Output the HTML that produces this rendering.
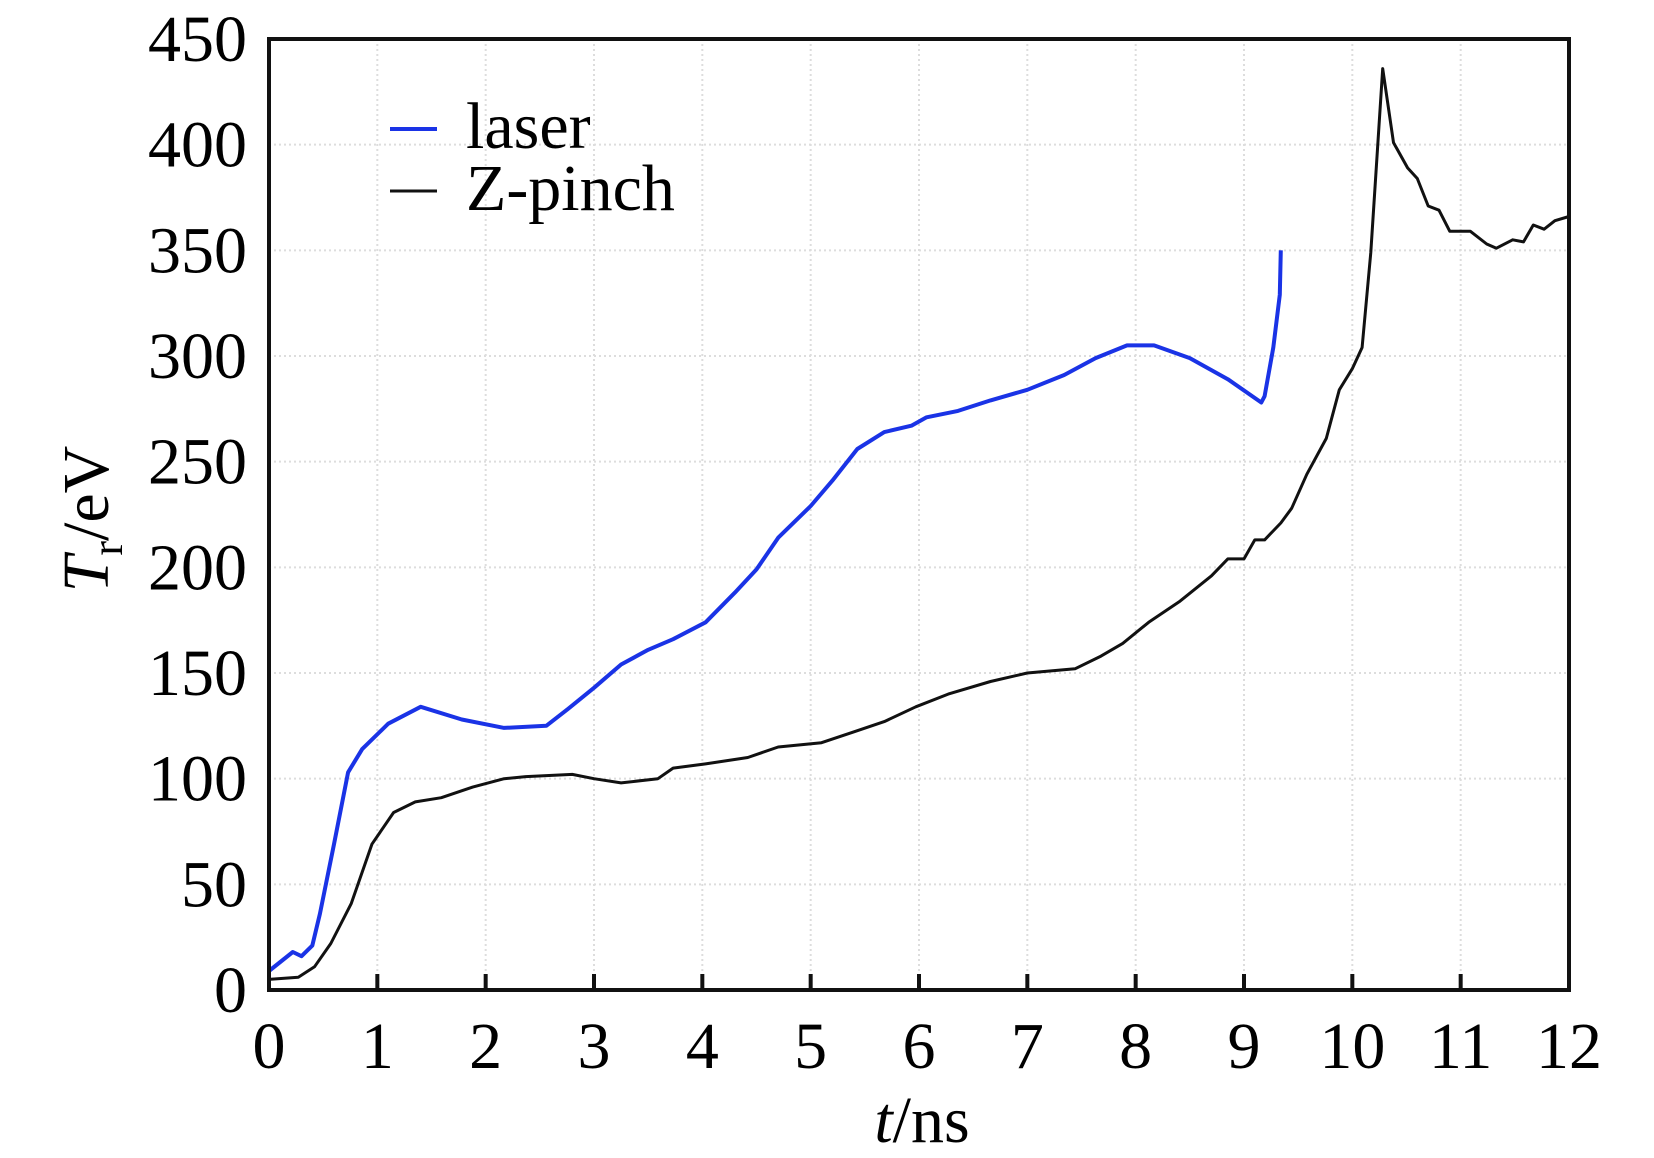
<!DOCTYPE html>
<html><head><meta charset="utf-8"><style>
html,body{margin:0;padding:0;background:#fff;}
svg{display:block;font-family:"Liberation Serif",serif;}
</style></head><body>
<svg id="chart" width="1654" height="1158" viewBox="0 0 1654 1158">
<g id="grid"></g>
<g id="series"></g>
<rect x="269" y="39" width="1300" height="951" fill="none" stroke="#111" stroke-width="4"/>
<g id="ticks"></g>
<text x="922" y="1142" font-size="66" text-anchor="middle"><tspan font-style="italic">t</tspan>/ns</text>
<text transform="translate(108,519) rotate(-90)" font-size="66" text-anchor="middle"><tspan font-style="italic">T</tspan><tspan font-size="44" dy="14">r</tspan><tspan dy="-14">/eV</tspan></text>
<g>
<line x1="390" y1="129" x2="437" y2="129" stroke="#1a33e6" stroke-width="4"/>
<text x="466" y="148" font-size="66">laser</text>
<line x1="390" y1="191" x2="437" y2="191" stroke="#111" stroke-width="3"/>
<text x="466" y="210" font-size="66">Z-pinch</text>
</g>
</svg>
<script>
const xTicks=[0,1,2,3,4,5,6,7,8,9,10,11,12];
const yTicks=[0,50,100,150,200,250,300,350,400,450];
const laserT=[0,0.22,0.3,0.4,0.47,0.6,0.73,0.86,1.1,1.4,1.78,2.17,2.56,2.76,3.0,3.25,3.5,3.73,4.03,4.3,4.5,4.7,5.0,5.2,5.43,5.68,5.93,6.07,6.36,6.66,7.0,7.34,7.63,7.92,8.17,8.5,8.85,9.16,9.19,9.27,9.33,9.34];
const laserV=[9,18,16,21,36,69,103,114,126,134,128,124,125,133,143,154,161,166,174,188,199,214,229,241,256,264,267,271,274,279,284,291,299,305,305,299,289,278,281,304,329,350];
const zT=[0,0.27,0.42,0.57,0.76,0.95,1.15,1.35,1.59,1.88,2.17,2.37,2.8,3.0,3.25,3.59,3.73,4.03,4.42,4.7,5.1,5.39,5.68,5.97,6.27,6.66,7.0,7.44,7.68,7.88,8.12,8.41,8.7,8.85,9.0,9.1,9.19,9.34,9.44,9.58,9.76,9.88,10.0,10.09,10.17,10.28,10.38,10.51,10.6,10.7,10.8,10.9,11.09,11.24,11.33,11.48,11.58,11.67,11.77,11.87,12.0];
const zV=[5,6,11,22,41,69,84,89,91,96,100,101,102,100,98,100,105,107,110,115,117,122,127,134,140,146,150,152,158,164,174,184,196,204,204,213,213,221,228,244,261,284,294,304,349,436,401,389,384,371,369,359,359,353,351,355,354,362,360,364,366];
const X0=269,X1=1569,Y0=990,Y1=39;
function xs(t){return X0+t*(X1-X0)/12;}
function ys(v){return Y0-v*(Y0-Y1)/450;}
const NS="http://www.w3.org/2000/svg";
const grid=document.getElementById('grid'),ticks=document.getElementById('ticks'),series=document.getElementById('series');
function mk(tag,attrs,parent){const e=document.createElementNS(NS,tag);for(const k in attrs)e.setAttribute(k,attrs[k]);parent.appendChild(e);return e;}
xTicks.forEach(t=>{
  const x=xs(t);
  if(t>0&&t<12){const g=mk('line',{x1:x,y1:Y1,x2:x,y2:Y0,stroke:'#ddd','stroke-width':2,'stroke-dasharray':'2,3'},grid);
  
  
  const tk=mk('line',{x1:x,y1:Y0,x2:x,y2:Y0-16,stroke:'#111','stroke-width':4},ticks);
  
  }
  const l=mk('text',{x:x,y:1068,'font-size':66,'text-anchor':'middle'},ticks);l.textContent=t;
  
  
});
yTicks.forEach(v=>{
  const y=ys(v);
  if(v>0&&v<450){const g=mk('line',{x1:X0,y1:y,x2:X1,y2:y,stroke:'#ddd','stroke-width':2,'stroke-dasharray':'2,3'},grid);
  
  }
  const l=mk('text',{x:247,y:y+22,'font-size':66,'text-anchor':'end'},ticks);l.textContent=v;
  
  
});
function path(T,V,color,w,name){
  const d=T.map((t,i)=>(i?'L':'M')+xs(t).toFixed(1)+','+ys(V[i]).toFixed(1)).join('');
  const p=mk('path',{d:d,fill:'none',stroke:color,'stroke-width':w,'stroke-linejoin':'round'},series);
  
  
}
path(zT,zV,'#111',3,'zpinch-line');
path(laserT,laserV,'#1a33e6',4,'laser-line');
</script>
</body></html>
